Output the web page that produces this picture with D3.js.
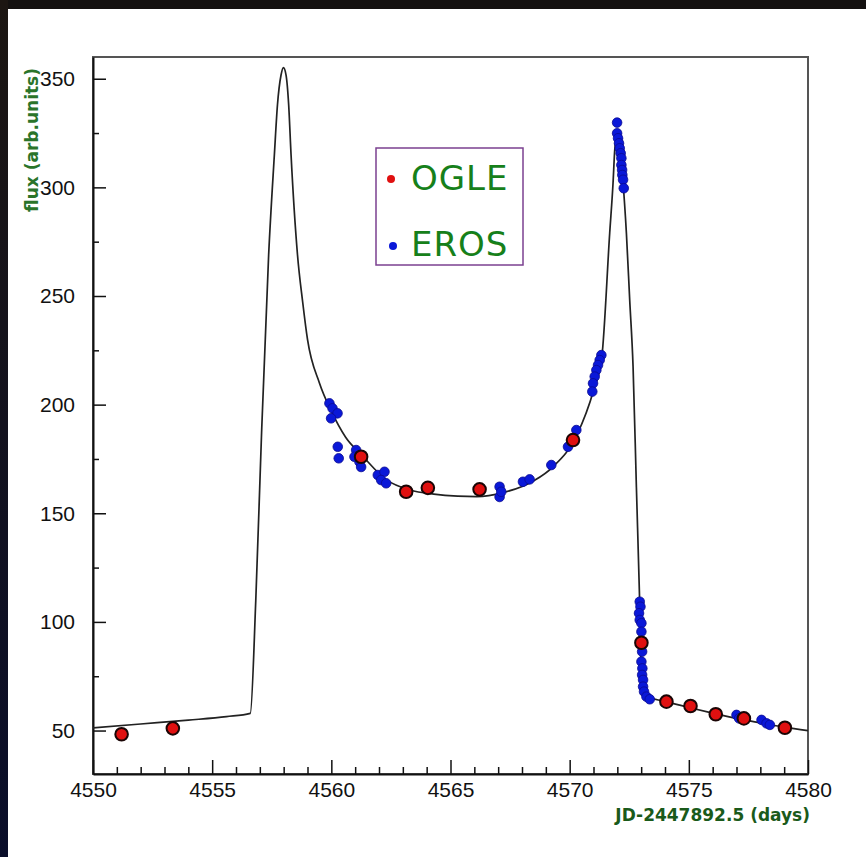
<!DOCTYPE html>
<html>
<head>
<meta charset="utf-8">
<script src="https://cdn.jsdelivr.net/npm/d3@7"></script>
<style>
  body{margin:0;background:#ffffff;}
  svg{display:block;}
</style>
</head>
<body>
<div id="chart"></div>
<script>
// Tick values of the axes
var xMajorTicks = [4550, 4555, 4560, 4565, 4570, 4575, 4580];
var yMajorTicks = [50, 100, 150, 200, 250, 300, 350];

// Fitted light curve
var fitDays = [4550.0, 4552.0, 4554.0, 4555.6, 4556.6, 4556.83, 4557.07, 4557.37, 4557.61, 4557.74, 4557.89, 4557.99,
  4558.10, 4558.21, 4558.31, 4558.58, 4558.8, 4559.0, 4559.5, 4560.0, 4560.6, 4561.3, 4562.3, 4563.3, 4564.3, 4565.3, 4566.1,
  4567.2, 4568.5, 4569.3, 4570.3, 4571.0, 4571.35, 4571.68, 4571.82, 4571.89, 4571.96, 4572.03, 4572.24, 4572.38,
  4572.52, 4572.66, 4572.80, 4572.93, 4573.02, 4573.1, 4574, 4575, 4576, 4577, 4578, 4579, 4580];
var fitFlux = [51.2, 53.0, 54.8, 56.4, 57.9, 110, 186, 269, 315, 338, 351.7, 355.1,
  351.7, 338, 315, 269, 247, 230, 210, 197, 185, 176.5, 165.5, 160.7, 158.8, 157.9, 157.7,
  159.5, 165.0, 171.4, 186.0, 206.5, 222, 279, 302, 317, 323, 322, 302, 279,
  248, 217.5, 162, 112, 72, 66.2, 63.4, 60.6, 58.0, 55.6, 53.5, 51.6, 50.0];

// OGLE measurements
var ogleDays = [4551.2, 4553.35, 4561.25, 4563.14, 4564.05, 4566.22, 4570.14, 4573.01, 4574.06, 4575.07, 4576.13, 4577.31, 4579.03];
var ogleFlux = [48.3, 51.0, 176.0, 159.9, 161.7, 161.0, 183.7, 90.4, 63.3, 61.3, 57.5, 55.6, 51.3];

// EROS measurements
var erosDays = [4559.92, 4560.05, 4560.26, 4559.99, 4560.27, 4560.31, 4561.04, 4561.18, 4560.97, 4561.25,
  4561.95, 4562.23, 4562.09, 4562.30, 4567.06, 4567.06, 4567.13, 4568.04, 4568.32, 4569.23, 4569.93, 4570.28,
  4571.33, 4571.26, 4571.19, 4571.12, 4571.05, 4570.98, 4570.95,
  4571.99, 4571.99, 4572.03, 4572.07, 4572.10, 4572.14, 4572.17, 4572.17, 4572.20, 4572.21, 4572.24, 4572.27,
  4572.94, 4572.97, 4572.91, 4572.94, 4573.01, 4573.01, 4573.04, 4573.01, 4573.05, 4573.04, 4573.08, 4573.08,
  4573.12, 4573.22, 4573.36,
  4577.0, 4577.11, 4578.05, 4578.26, 4578.4];
var erosFlux = [200.6, 198.3, 196.0, 193.7, 180.6, 175.3, 179.1, 173.7, 176.0, 171.3,
  167.6, 169.1, 165.3, 163.8, 162.2, 157.5, 159.9, 164.5, 165.6, 172.2, 180.6, 188.3,
  222.8, 220.5, 218.2, 215.9, 212.9, 209.8, 206.0,
  329.8, 324.9, 322.6, 320.3, 318.0, 315.7, 313.4, 310.3, 308.0, 305.7, 303.5, 299.6,
  109.3, 107.0, 104.0, 100.9, 99.4, 95.5, 86.3, 81.7, 78.6, 75.6, 73.3, 70.2,
  67.9, 65.6, 64.4,
  57.2, 55.6, 54.9, 53.3, 52.6];

var legendNames = ["OGLE", "EROS"];
var legendColors = ["#e01010", "#0a18d8"];

var width = 866, height = 857;
var frame = {left: 93, top: 57, right: 808, bottom: 774};

var svg = d3.select("#chart")
  .append("svg")
  .attr("width", width)
  .attr("height", height)
  .attr("viewBox", "0,0," + width + "," + height);

// Dark borders of the photographed slide
var grad = svg.append("defs").append("linearGradient")
  .attr("id", "leftEdge").attr("x1", 0).attr("x2", 0).attr("y1", 0).attr("y2", 1);
grad.append("stop").attr("offset", "0%").attr("stop-color", "#1c1612");
grad.append("stop").attr("offset", "100%").attr("stop-color", "#0a0e2a");
svg.append("rect").attr("x", 0).attr("y", 0).attr("width", width).attr("height", 9).attr("fill", "#141110");
svg.append("rect").attr("x", 0).attr("y", 0).attr("width", 8).attr("height", height).attr("fill", "url(#leftEdge)");

// Scales
var xScale = d3.scaleLinear().domain([4550, 4580]).range([frame.left, frame.right]);
var yScale = d3.scaleLinear().domain([30, 360]).range([frame.bottom, frame.top]);

// Clip for the curve
svg.select("defs").append("clipPath")
  .attr("id", "plotClip")
  .append("rect")
  .attr("x", frame.left).attr("y", frame.top)
  .attr("width", frame.right - frame.left)
  .attr("height", frame.bottom - frame.top);

// Frame
svg.append("rect")
  .attr("x", frame.left).attr("y", frame.top)
  .attr("width", frame.right - frame.left)
  .attr("height", frame.bottom - frame.top)
  .attr("fill", "none")
  .attr("stroke", "#555555")
  .attr("stroke-width", 2);

// Minor ticks
var xMinor = d3.range(4551, 4580).filter(function(d){ return d % 5 != 0; });
var yMinor = d3.range(75, 360, 50);

svg.append("g")
  .attr("transform", "translate(0," + frame.bottom + ")")
  .call(d3.axisBottom(xScale).tickValues(xMinor).tickSizeInner(-7).tickSizeOuter(0).tickFormat(""))
  .call(function(g){ g.select(".domain").remove(); });

svg.append("g")
  .attr("transform", "translate(" + frame.left + ",0)")
  .call(d3.axisLeft(yScale).tickValues(yMinor).tickSizeInner(-6).tickSizeOuter(0).tickFormat(""))
  .call(function(g){ g.select(".domain").remove(); });

// Major axes
var gX = svg.append("g")
  .attr("transform", "translate(0," + frame.bottom + ")")
  .call(d3.axisBottom(xScale).tickValues(xMajorTicks).tickSizeInner(-14).tickSizeOuter(0).tickPadding(8).tickFormat(d3.format("d")));

var gY = svg.append("g")
  .attr("transform", "translate(" + frame.left + ",0)")
  .call(d3.axisLeft(yScale).tickValues(yMajorTicks).tickSizeInner(-13).tickSizeOuter(0).tickPadding(18).tickFormat(d3.format("d")));

[gX, gY].forEach(function(g){
  g.select(".domain").attr("stroke", "#111").attr("stroke-width", 2);
  g.selectAll("text")
    .attr("fill", "#111")
    .style("font-family", "'Liberation Sans', Arial, sans-serif")
    .style("font-size", "21px");
});
svg.selectAll(".tick line").attr("stroke", "#111").attr("stroke-width", 1.5);

// Axis titles
svg.append("text")
  .attr("x", frame.right + 2)
  .attr("y", 821)
  .attr("text-anchor", "end")
  .attr("fill", "#1a5a1a")
  .style("font-family", "'DejaVu Sans', Verdana, sans-serif")
  .style("font-size", "17px")
  .style("font-weight", "bold")
  .text("JD-2447892.5 (days)");

svg.append("text")
  .attr("transform", "translate(38,68)rotate(-90)")
  .attr("text-anchor", "end")
  .attr("fill", "#2a742a")
  .style("font-family", "'DejaVu Sans', Verdana, sans-serif")
  .style("font-size", "17px")
  .style("font-weight", "bold")
  .text("flux (arb.units)");

// Fitted curve
var line = d3.line()
  .x(function(d){ return xScale(d[0]); })
  .y(function(d){ return yScale(d[1]); })
  .curve(d3.curveMonotoneX);

svg.append("path")
  .datum(d3.zip(fitDays, fitFlux))
  .attr("clip-path", "url(#plotClip)")
  .attr("d", line)
  .attr("fill", "none")
  .attr("stroke", "#222")
  .attr("stroke-width", 1.7);

// EROS points
svg.append("g").selectAll("circle")
  .data(d3.zip(erosDays, erosFlux))
  .enter()
  .append("circle")
  .attr("cx", function(d){ return xScale(d[0]); })
  .attr("cy", function(d){ return yScale(d[1]); })
  .attr("r", 4.8)
  .attr("fill", legendColors[1])
  .attr("stroke", "#0a0a90")
  .attr("stroke-width", 0.8);

// OGLE points
svg.append("g").selectAll("circle")
  .data(d3.zip(ogleDays, ogleFlux))
  .enter()
  .append("circle")
  .attr("cx", function(d){ return xScale(d[0]); })
  .attr("cy", function(d){ return yScale(d[1]); })
  .attr("r", 6.3)
  .attr("fill", legendColors[0])
  .attr("stroke", "#1a0505")
  .attr("stroke-width", 2);

// Legend box
var legend = svg.append("g").attr("class", "legend");
legend.append("rect")
  .attr("x", 376).attr("y", 148)
  .attr("width", 147).attr("height", 117)
  .attr("fill", "#ffffff")
  .attr("stroke", "#7b4090")
  .attr("stroke-width", 1.5);

legendNames.forEach(function(name, i){
  legend.append("circle")
    .attr("cx", 391 + i * 2)
    .attr("cy", 179 + i * 67)
    .attr("r", 4)
    .attr("fill", legendColors[i]);
  legend.append("text")
    .attr("x", 411)
    .attr("y", 190 + i * 66)
    .attr("fill", "#16801a")
    .style("font-family", "'DejaVu Sans', Verdana, sans-serif")
    .style("font-size", "34px")
    .style("letter-spacing", "1px")
    .text(name);
});
</script>
</body>
</html>
